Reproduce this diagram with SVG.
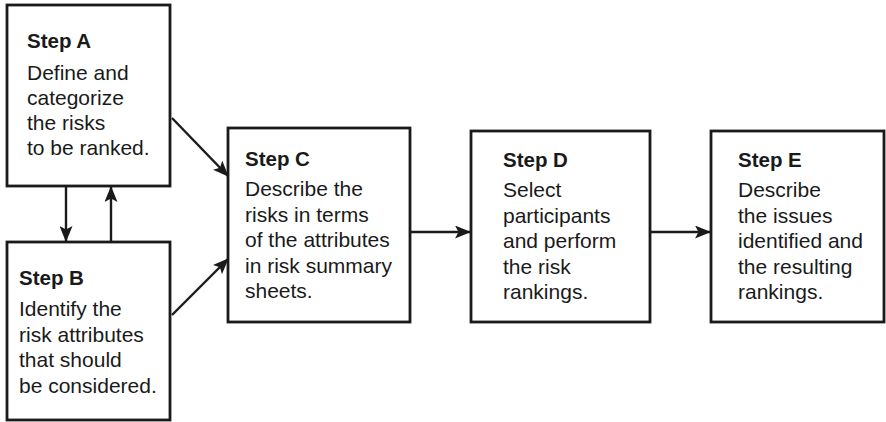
<svg xmlns="http://www.w3.org/2000/svg" width="886" height="422" viewBox="0 0 886 422">
  <style>
    .box { fill: #ffffff; stroke: #1a1a1a; stroke-width: 2.8; }
    .title { font-family: "Liberation Sans", Arial, sans-serif; font-weight: bold; font-size: 20.5px; fill: #1a1a1a; }
    .body { font-family: "Liberation Sans", Arial, sans-serif; font-size: 21px; fill: #1a1a1a; }
    .conn { fill: none; stroke: #1a1a1a; stroke-width: 2.4; }
  </style>
  <defs>
    <marker id="arrow" viewBox="0 0 16 13" refX="15" refY="6.5" markerWidth="16" markerHeight="13" markerUnits="userSpaceOnUse" orient="auto">
      <path d="M0,0 L16,6.5 L0,13 L3.5,6.5 Z" fill="#1a1a1a"/>
    </marker>
  </defs>
  <rect width="886" height="422" fill="#ffffff"/>

  <g id="stepA">
    <rect class="box" x="7" y="5" width="163" height="181"/>
    <text class="title" x="27" y="48">Step A</text>
    <text class="body" x="27" y="80">Define and</text>
    <text class="body" x="27" y="105">categorize</text>
    <text class="body" x="27" y="130">the risks</text>
    <text class="body" x="27" y="155">to be ranked.</text>
  </g>

  <g id="stepB">
    <rect class="box" x="7" y="242" width="163" height="178"/>
    <text class="title" x="19" y="285">Step B</text>
    <text class="body" x="19" y="316">Identify the</text>
    <text class="body" x="19" y="342">risk attributes</text>
    <text class="body" x="19" y="367">that should</text>
    <text class="body" x="19" y="393">be considered.</text>
  </g>

  <g id="stepC">
    <rect class="box" x="228" y="128" width="182" height="194"/>
    <text class="title" x="245" y="166">Step C</text>
    <text class="body" x="245" y="196">Describe the</text>
    <text class="body" x="245" y="222">risks in terms</text>
    <text class="body" x="245" y="247">of the attributes</text>
    <text class="body" x="245" y="273">in risk summary</text>
    <text class="body" x="245" y="298">sheets.</text>
  </g>

  <g id="stepD">
    <rect class="box" x="471" y="131" width="179" height="191"/>
    <text class="title" x="503" y="167">Step D</text>
    <text class="body" x="503" y="197">Select</text>
    <text class="body" x="503" y="223">participants</text>
    <text class="body" x="503" y="248">and perform</text>
    <text class="body" x="503" y="274">the risk</text>
    <text class="body" x="503" y="299">rankings.</text>
  </g>

  <g id="stepE">
    <rect class="box" x="711" y="131" width="173" height="191"/>
    <text class="title" x="738" y="167">Step E</text>
    <text class="body" x="738" y="197">Describe</text>
    <text class="body" x="738" y="223">the issues</text>
    <text class="body" x="738" y="248">identified and</text>
    <text class="body" x="738" y="274">the resulting</text>
    <text class="body" x="738" y="299">rankings.</text>
  </g>

  <g id="connectors">
    <line class="conn" x1="66" y1="187" x2="66" y2="241" marker-end="url(#arrow)"/>
    <line class="conn" x1="111" y1="241" x2="111" y2="187" marker-end="url(#arrow)"/>
    <line class="conn" x1="172" y1="118" x2="228" y2="176" marker-end="url(#arrow)"/>
    <line class="conn" x1="172" y1="315" x2="228" y2="259" marker-end="url(#arrow)"/>
    <line class="conn" x1="411" y1="232" x2="470" y2="232" marker-end="url(#arrow)"/>
    <line class="conn" x1="651" y1="232" x2="710" y2="232" marker-end="url(#arrow)"/>
  </g>
</svg>
